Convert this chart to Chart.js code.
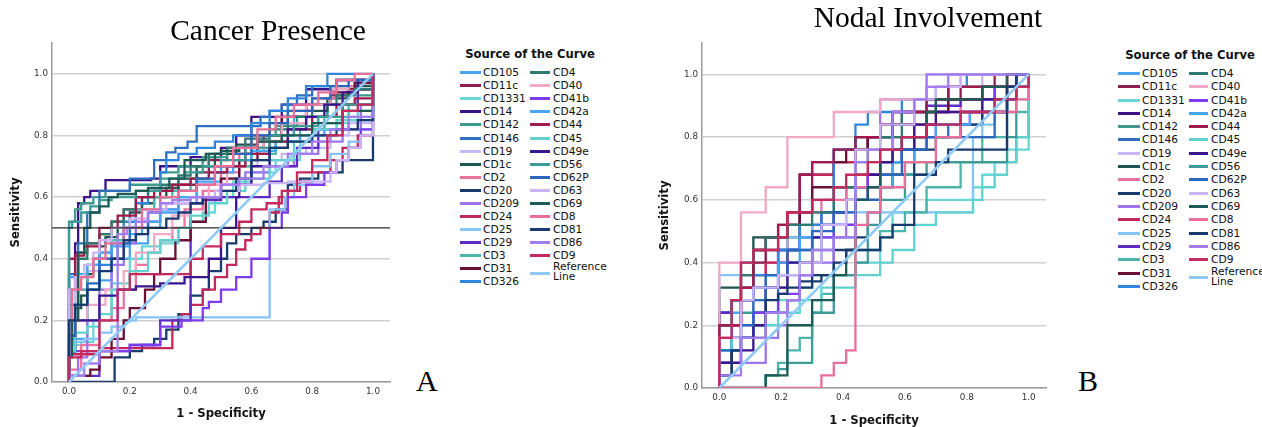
<!DOCTYPE html>
<html><head><meta charset="utf-8">
<script src="https://cdn.jsdelivr.net/npm/chart.js@4.4.0/dist/chart.umd.min.js"></script>
<style>
html,body{margin:0;padding:0;background:#fff;overflow:hidden;width:1262px;height:427px;position:relative}
canvas{position:absolute;top:0}
.ttl{position:absolute;font-family:"Liberation Serif","Times New Roman",serif;font-size:29.5px;line-height:29.5px;white-space:nowrap;color:#000;transform:translateX(-50%)}
.pl{position:absolute;font-family:"Liberation Serif","Times New Roman",serif;font-size:30px;line-height:30px;color:#000}
.lg{position:absolute;font-family:"DejaVu Sans",sans-serif;font-size:10.7px;line-height:13px;color:#111;white-space:nowrap}
.lgt{position:absolute;font-family:"DejaVu Sans",sans-serif;font-weight:bold;font-size:11.6px;line-height:14px;white-space:nowrap;transform:translateX(-50%);color:#111}
.sw{position:absolute;height:3px}
</style></head><body>
<canvas id="c1" width="400" height="427" style="left:0px"></canvas>
<canvas id="c2" width="410" height="432" style="left:650px"></canvas>
<div class="ttl" style="left:268px;top:16px">Cancer Presence</div>
<div class="ttl" style="left:928px;top:3px">Nodal Involvement</div>
<div class="pl" style="left:416px;top:366px">A</div>
<div class="pl" style="left:1078px;top:366px">B</div>
<div id="leg1"></div><div id="leg2"></div>
<script>
const markers = ['CD105','CD11c','CD1331','CD14','CD142','CD146','CD19','CD1c','CD2','CD20','CD209','CD24','CD25','CD29','CD3','CD31','CD326','CD4','CD40','CD41b','CD42a','CD44','CD45','CD49e','CD56','CD62P','CD63','CD69','CD8','CD81','CD86','CD9'];
const markerColors = ['#4aa3ee','#8e1f4f','#6ad6d6','#3b1387','#3f9a8e','#2e6fc0','#c9b8f7','#1f5550','#ec739f','#173b6c','#9d73ee','#c2275c','#84c4f6','#5e2cc4','#4db5aa','#6a1036','#2f86dd','#2e7a70','#f2a9c6','#7d3cf0','#46a6f4','#a01a4c','#60d2cf','#3a168e','#3d9c98','#2a67bd','#cbb4f5','#1f5b56','#eb6e99','#183a6f','#a47df1','#c52a5c'];
const refLabel = ['Reference','Line'];
const refColor = '#8fcaf5';
const refLine = [0,0, 1,1];
const cutoffY = 0.5;
const tickValues = [0, 0.2, 0.4, 0.6, 0.8, 1.0];
const legendTitle = 'Source of the Curve';
const xTitle = '1 - Specificity';
const yTitle = 'Sensitivity';

// ROC vertices (1 - specificity, sensitivity): rise first, then run
const cancerROC = [
 [0,0, 0.06,0.14, 0.1,0.3, 0.14,0.33, 0.2,0.4, 0.26,0.45, 0.3,0.5, 0.36,0.55, 0.42,0.6, 0.5,0.65, 0.58,0.7, 0.66,0.74, 0.74,0.8, 0.85,0.86, 1,0.9, 1,1],
 [0,0, 0.02,0.4, 0.06,0.42, 0.1,0.45, 0.14,0.48, 0.18,0.52, 0.24,0.56, 0.3,0.6, 0.36,0.62, 0.42,0.64, 0.46,0.68, 0.52,0.72, 0.58,0.74, 0.64,0.76, 0.7,0.8, 0.78,0.86, 0.86,0.9, 0.92,0.93, 1,0.95, 1,1],
 [0,0, 0.04,0.12, 0.08,0.13, 0.14,0.2, 0.2,0.32, 0.24,0.4, 0.3,0.44, 0.36,0.45, 0.4,0.5, 0.44,0.52, 0.48,0.55, 0.54,0.6, 0.6,0.65, 0.68,0.68, 0.76,0.72, 0.84,0.8, 0.92,0.84, 1,0.86, 1,1],
 [0,0, 0.02,0.1, 0.03,0.45, 0.05,0.58, 0.07,0.6, 0.12,0.62, 0.27,0.655, 0.3,0.66, 0.4,0.7, 0.5,0.73, 0.55,0.76, 0.6,0.8, 0.7,0.86, 0.78,0.9, 0.88,0.95, 0.95,0.98, 1,0.98, 1,1],
 [0,0, 0.02,0.52, 0.04,0.56, 0.08,0.58, 0.12,0.6, 0.2,0.62, 0.3,0.64, 0.36,0.68, 0.44,0.7, 0.52,0.73, 0.6,0.76, 0.68,0.8, 0.75,0.83, 0.85,0.86, 0.95,0.9, 1,0.93, 1,1],
 [0,0, 0.03,0.35, 0.06,0.45, 0.1,0.55, 0.2,0.62, 0.28,0.66, 0.32,0.72, 0.35,0.745, 0.39,0.76, 0.42,0.78, 0.63,0.83, 0.66,0.86, 0.7,0.88, 0.75,0.9, 0.8,0.93, 0.88,0.96, 1,0.98, 1,1],
 [0,0, 0.02,0.25, 0.06,0.3, 0.1,0.36, 0.14,0.4, 0.2,0.45, 0.26,0.5, 0.3,0.55, 0.36,0.58, 0.44,0.6, 0.5,0.62, 0.56,0.66, 0.62,0.7, 0.7,0.72, 0.78,0.74, 0.86,0.76, 0.92,0.8, 1,0.84, 1,1],
 [0,0, 0.02,0.1, 0.04,0.24, 0.06,0.28, 0.08,0.35, 0.1,0.4, 0.12,0.44, 0.16,0.47, 0.2,0.5, 0.24,0.55, 0.28,0.58, 0.32,0.6, 0.36,0.63, 0.42,0.66, 0.48,0.7, 0.55,0.74, 0.62,0.77, 0.7,0.8, 0.78,0.84, 0.85,0.88, 0.92,0.92, 1,0.96, 1,1],
 [0,0, 0.04,0.04, 0.1,0.12, 0.14,0.2, 0.18,0.24, 0.22,0.3, 0.26,0.38, 0.3,0.42, 0.34,0.46, 0.38,0.5, 0.44,0.56, 0.5,0.62, 0.56,0.68, 0.6,0.74, 0.66,0.8, 0.72,0.84, 0.8,0.88, 0.88,0.92, 0.94,0.96, 1,0.98, 1,1],
 [0,0, 0.15,0, 0.2,0.08, 0.24,0.1, 0.28,0.12, 0.32,0.14, 0.36,0.17, 0.4,0.22, 0.44,0.28, 0.46,0.3, 0.5,0.36, 0.52,0.4, 0.55,0.45, 0.6,0.48, 0.64,0.5, 0.68,0.52, 0.72,0.56, 0.76,0.64, 0.82,0.66, 0.9,0.68, 1,0.72, 1,1],
 [0,0, 0.03,0.02, 0.06,0.08, 0.1,0.2, 0.14,0.3, 0.18,0.38, 0.22,0.45, 0.26,0.5, 0.3,0.52, 0.36,0.56, 0.42,0.58, 0.5,0.6, 0.58,0.64, 0.66,0.68, 0.74,0.7, 0.82,0.74, 0.9,0.78, 0.96,0.82, 1,0.9, 1,1],
 [0,0, 0.1,0.09, 0.34,0.11, 0.37,0.2, 0.4,0.22, 0.44,0.25, 0.48,0.3, 0.52,0.34, 0.55,0.38, 0.58,0.43, 0.6,0.46, 0.63,0.48, 0.66,0.5, 0.69,0.55, 0.72,0.6, 0.76,0.62, 0.8,0.65, 0.86,0.68, 0.9,0.72, 0.95,0.76, 1,0.8, 1,1],
 [0,0, 0.05,0.13, 0.1,0.14, 0.14,0.16, 0.18,0.18, 0.22,0.2, 0.27,0.21, 0.66,0.21, 0.71,0.56, 0.74,0.6, 0.8,0.64, 0.86,0.7, 0.92,0.74, 0.96,0.78, 1,0.82, 1,1],
 [0,0, 0.1,0.02, 0.2,0.1, 0.3,0.12, 0.4,0.2, 0.44,0.58, 0.5,0.59, 0.66,0.6, 0.7,0.65, 0.75,0.7, 0.82,0.76, 0.9,0.82, 0.95,0.9, 1,0.95, 1,1],
 [0,0, 0.03,0.2, 0.06,0.3, 0.1,0.38, 0.14,0.42, 0.18,0.46, 0.22,0.5, 0.28,0.56, 0.34,0.6, 0.4,0.62, 0.46,0.66, 0.52,0.68, 0.6,0.7, 0.68,0.74, 0.76,0.78, 0.84,0.82, 0.92,0.86, 1,0.9, 1,1],
 [0,0, 0.07,0.02, 0.1,0.04, 0.14,0.08, 0.18,0.14, 0.2,0.2, 0.25,0.24, 0.28,0.3, 0.3,0.35, 0.35,0.4, 0.4,0.46, 0.45,0.52, 0.5,0.6, 0.56,0.66, 0.62,0.72, 0.7,0.78, 0.78,0.86, 0.86,0.9, 0.94,0.94, 1,0.97, 1,1],
 [0,0, 0.02,0.1, 0.06,0.2, 0.1,0.3, 0.14,0.38, 0.18,0.45, 0.22,0.52, 0.26,0.58, 0.3,0.62, 0.32,0.68, 0.36,0.72, 0.42,0.74, 0.48,0.76, 0.54,0.78, 0.6,0.8, 0.66,0.84, 0.72,0.88, 0.78,0.92, 0.85,0.96, 0.9,1, 1,1],
 [0,0, 0.03,0.25, 0.06,0.4, 0.1,0.45, 0.14,0.48, 0.18,0.52, 0.22,0.56, 0.26,0.6, 0.3,0.62, 0.36,0.64, 0.4,0.67, 0.46,0.7, 0.52,0.74, 0.58,0.76, 0.66,0.79, 0.72,0.82, 0.8,0.86, 0.88,0.9, 0.94,0.93, 1,0.95, 1,1],
 [0,0, 0.02,0.12, 0.06,0.2, 0.12,0.25, 0.18,0.3, 0.22,0.36, 0.28,0.42, 0.34,0.48, 0.4,0.54, 0.46,0.6, 0.52,0.64, 0.58,0.7, 0.64,0.74, 0.7,0.78, 0.78,0.84, 0.86,0.9, 0.92,0.95, 1,0.98, 1,1],
 [0,0, 0.2,0.1, 0.3,0.12, 0.37,0.18, 0.44,0.2, 0.46,0.24, 0.5,0.26, 0.55,0.3, 0.6,0.34, 0.66,0.4, 0.7,0.5, 0.72,0.55, 0.78,0.6, 0.84,0.64, 0.88,0.68, 0.92,0.72, 0.96,0.76, 1,0.82, 1,1],
 [0,0, 0.02,0.34, 0.06,0.35, 0.1,0.38, 0.14,0.42, 0.2,0.44, 0.24,0.48, 0.3,0.52, 0.36,0.56, 0.42,0.6, 0.48,0.64, 0.54,0.68, 0.6,0.72, 0.68,0.75, 0.76,0.78, 0.84,0.8, 0.92,0.82, 1,0.85, 1,1],
 [0,0, 0.02,0.3, 0.05,0.41, 0.1,0.44, 0.16,0.5, 0.22,0.54, 0.28,0.6, 0.34,0.62, 0.4,0.64, 0.46,0.66, 0.52,0.68, 0.58,0.7, 0.66,0.74, 0.72,0.78, 0.8,0.82, 0.88,0.86, 0.94,0.9, 1,0.92, 1,1],
 [0,0, 0.02,0.1, 0.06,0.16, 0.1,0.18, 0.14,0.22, 0.2,0.3, 0.26,0.36, 0.3,0.42, 0.36,0.46, 0.4,0.5, 0.46,0.54, 0.52,0.58, 0.58,0.62, 0.66,0.66, 0.74,0.72, 0.8,0.78, 0.88,0.82, 0.95,0.85, 1,0.88, 1,1],
 [0,0, 0.02,0.15, 0.1,0.2, 0.16,0.28, 0.22,0.3, 0.3,0.31, 0.38,0.32, 0.46,0.34, 0.5,0.4, 0.55,0.5, 0.56,0.6, 0.6,0.64, 0.66,0.7, 0.72,0.76, 0.78,0.82, 0.84,0.86, 0.9,0.9, 0.95,0.94, 1,0.98, 1,1],
 [0,0, 0.01,0.5, 0.04,0.52, 0.07,0.55, 0.1,0.57, 0.14,0.59, 0.22,0.6, 0.3,0.62, 0.38,0.66, 0.44,0.68, 0.5,0.7, 0.58,0.72, 0.66,0.76, 0.74,0.8, 0.82,0.83, 0.9,0.86, 1,0.9, 1,1],
 [0,0, 0.02,0.15, 0.06,0.25, 0.1,0.32, 0.16,0.4, 0.2,0.45, 0.26,0.5, 0.3,0.55, 0.36,0.6, 0.42,0.62, 0.48,0.66, 0.54,0.7, 0.6,0.74, 0.66,0.8, 0.72,0.84, 0.8,0.88, 0.86,0.92, 0.92,0.96, 1,0.98, 1,1],
 [0,0, 0.02,0.3, 0.05,0.34, 0.08,0.38, 0.1,0.42, 0.14,0.46, 0.2,0.5, 0.26,0.53, 0.32,0.56, 0.4,0.58, 0.48,0.6, 0.56,0.62, 0.64,0.64, 0.72,0.645, 0.86,0.65, 0.88,0.68, 0.92,0.72, 0.96,0.76, 1,0.8, 1,1],
 [0,0, 0.01,0.08, 0.03,0.2, 0.05,0.42, 0.07,0.5, 0.1,0.55, 0.13,0.57, 0.16,0.6, 0.22,0.61, 0.26,0.62, 0.33,0.63, 0.38,0.66, 0.45,0.72, 0.5,0.74, 0.56,0.75, 0.62,0.76, 0.7,0.78, 0.8,0.8, 0.9,0.84, 1,0.88, 1,1],
 [0,0, 0.01,0.2, 0.04,0.3, 0.08,0.34, 0.12,0.4, 0.18,0.45, 0.24,0.5, 0.3,0.56, 0.36,0.6, 0.42,0.62, 0.48,0.64, 0.54,0.7, 0.62,0.76, 0.68,0.82, 0.74,0.86, 0.82,0.9, 0.88,0.94, 0.94,0.98, 1,1],
 [0,0, 0.02,0.2, 0.06,0.25, 0.1,0.3, 0.14,0.36, 0.18,0.4, 0.22,0.46, 0.26,0.48, 0.32,0.5, 0.36,0.53, 0.4,0.55, 0.44,0.58, 0.5,0.6, 0.55,0.62, 0.6,0.66, 0.66,0.72, 0.72,0.76, 0.8,0.78, 0.88,0.8, 0.95,0.82, 1,0.85, 1,1],
 [0,0, 0.05,0.02, 0.1,0.06, 0.16,0.1, 0.19,0.48, 0.22,0.5, 0.26,0.52, 0.3,0.55, 0.34,0.58, 0.4,0.59, 0.5,0.6, 0.56,0.64, 0.64,0.66, 0.72,0.7, 0.8,0.74, 0.86,0.78, 0.92,0.82, 1,0.86, 1,1],
 [0,0, 0.04,0.08, 0.1,0.1, 0.16,0.2, 0.2,0.3, 0.4,0.35, 0.44,0.4, 0.5,0.44, 0.56,0.48, 0.6,0.52, 0.65,0.56, 0.7,0.58, 0.75,0.62, 0.8,0.68, 0.85,0.72, 0.9,0.8, 0.95,0.88, 1,0.9, 1,1]
];

const nodalROC = [
 [0,0, 0.04,0.24, 0.07,0.28, 0.15,0.32, 0.19,0.36, 0.22,0.4, 0.3,0.44, 0.37,0.48, 0.44,0.52, 0.48,0.6, 0.52,0.64, 0.59,0.72, 0.67,0.8, 0.78,0.84, 0.85,0.88, 0.93,0.92, 1,0.96, 1,1],
 [0,0, 0.07,0.2, 0.11,0.36, 0.15,0.44, 0.19,0.48, 0.26,0.52, 0.3,0.56, 0.37,0.68, 0.44,0.72, 0.48,0.76, 0.56,0.8, 0.67,0.84, 0.7,0.88, 0.78,0.92, 0.89,0.96, 1,1],
 [0,0, 0.07,0.08, 0.11,0.16, 0.19,0.24, 0.26,0.28, 0.3,0.32, 0.37,0.36, 0.44,0.36, 0.52,0.4, 0.56,0.48, 0.67,0.56, 0.82,0.6, 0.85,0.64, 0.89,0.68, 0.93,0.72, 1,0.76, 1,1],
 [0,0, 0.04,0.24, 0.11,0.28, 0.19,0.32, 0.26,0.44, 0.3,0.48, 0.33,0.52, 0.41,0.56, 0.48,0.64, 0.52,0.68, 0.59,0.72, 0.67,0.8, 0.78,0.84, 0.93,0.88, 0.96,0.96, 1,1],
 [0,0, 0.04,0.08, 0.07,0.16, 0.15,0.24, 0.22,0.32, 0.3,0.4, 0.37,0.44, 0.44,0.48, 0.52,0.6, 0.6,0.68, 0.67,0.72, 0.96,0.72, 1,0.8, 1,1],
 [0,0, 0.04,0.08, 0.11,0.16, 0.19,0.24, 0.26,0.36, 0.33,0.4, 0.37,0.52, 0.41,0.56, 0.44,0.6, 0.52,0.64, 0.59,0.72, 0.67,0.76, 0.74,0.8, 0.85,0.84, 0.93,0.88, 0.96,0.92, 1,0.96, 1,1],
 [0,0, 0.11,0.2, 0.15,0.28, 0.22,0.32, 0.3,0.4, 0.37,0.48, 0.44,0.52, 0.48,0.6, 0.52,0.64, 0.56,0.72, 0.63,0.8, 0.67,0.84, 0.74,0.92, 0.85,0.96, 0.93,1, 1,1],
 [0,0, 0.07,0.32, 0.11,0.4, 0.26,0.48, 0.3,0.56, 0.37,0.6, 0.44,0.64, 0.48,0.76, 0.56,0.8, 0.67,0.84, 0.74,0.88, 0.85,0.92, 0.93,0.96, 1,1],
 [0,0, 0.04,0.16, 0.07,0.2, 0.11,0.28, 0.15,0.36, 0.22,0.4, 0.26,0.52, 0.33,0.56, 0.41,0.6, 0.48,0.64, 0.56,0.72, 0.63,0.8, 0.7,0.84, 0.78,0.88, 0.85,0.92, 0.93,0.96, 1,1],
 [0,0, 0.04,0.04, 0.11,0.16, 0.15,0.2, 0.22,0.24, 0.26,0.28, 0.3,0.32, 0.37,0.36, 0.44,0.44, 0.48,0.48, 0.52,0.56, 0.56,0.64, 0.63,0.68, 0.7,0.76, 0.78,0.8, 0.85,0.84, 0.93,0.88, 0.96,0.96, 1,1],
 [0,0, 0.15,0.08, 0.19,0.16, 0.22,0.2, 0.26,0.28, 0.3,0.36, 0.37,0.4, 0.41,0.48, 0.44,0.52, 0.52,0.8, 0.67,0.92, 1,1],
 [0,0, 0.07,0.2, 0.11,0.32, 0.15,0.36, 0.22,0.4, 0.26,0.56, 0.37,0.68, 0.44,0.72, 0.48,0.76, 0.52,0.8, 0.56,0.84, 0.63,0.88, 0.74,0.92, 0.85,0.96, 0.96,0.96, 1,1],
 [0,0, 0.07,0.36, 0.15,0.4, 0.22,0.44, 0.3,0.48, 0.37,0.52, 0.44,0.52, 0.56,0.56, 0.82,0.56, 0.85,0.8, 0.89,0.84, 0.93,0.88, 1,0.92, 1,1],
 [0,0, 0.04,0.24, 0.11,0.28, 0.19,0.32, 0.26,0.44, 0.3,0.68, 0.37,0.72, 0.44,0.76, 0.52,0.8, 0.59,0.84, 0.67,0.88, 0.78,0.9, 0.89,0.92, 1,0.96, 1,1],
 [0,0, 0.15,0, 0.19,0.04, 0.22,0.08, 0.26,0.12, 0.3,0.16, 0.33,0.24, 0.37,0.3, 0.44,0.36, 0.52,0.44, 0.6,0.5, 0.67,0.56, 0.78,0.64, 0.85,0.72, 0.93,0.8, 1,0.88, 1,1],
 [0,0, 0.04,0.08, 0.07,0.12, 0.11,0.28, 0.15,0.44, 0.22,0.48, 0.26,0.52, 0.3,0.56, 0.37,0.64, 0.41,0.72, 0.48,0.76, 0.56,0.8, 0.63,0.84, 0.74,0.88, 0.85,0.92, 0.93,0.96, 1,1],
 [0,0, 0.04,0.2, 0.11,0.28, 0.19,0.36, 0.26,0.44, 0.33,0.52, 0.37,0.56, 0.44,0.76, 0.48,0.84, 0.59,0.88, 0.7,0.92, 0.8,0.96, 0.93,1, 1,1],
 [0,0, 0.04,0.2, 0.07,0.28, 0.11,0.36, 0.15,0.44, 0.22,0.48, 0.3,0.52, 0.37,0.56, 0.44,0.64, 0.48,0.72, 0.52,0.76, 0.59,0.8, 0.67,0.88, 0.74,0.92, 0.85,0.96, 0.96,0.96, 1,1],
 [0,0, 0.07,0.4, 0.15,0.56, 0.22,0.64, 0.37,0.8, 0.52,0.88, 0.67,0.92, 0.78,0.96, 1,1],
 [0,0, 0.07,0.08, 0.11,0.16, 0.19,0.24, 0.26,0.3, 0.3,0.36, 0.37,0.48, 0.44,0.52, 0.48,0.6, 0.56,0.68, 0.63,0.76, 0.7,0.8, 0.81,0.84, 0.89,0.88, 0.96,0.96, 1,1],
 [0,0, 0.04,0.12, 0.07,0.24, 0.11,0.28, 0.19,0.32, 0.26,0.4, 0.33,0.48, 0.41,0.52, 0.44,0.56, 0.52,0.6, 0.56,0.64, 0.63,0.72, 0.7,0.8, 0.81,0.84, 0.89,0.88, 0.96,0.92, 1,1],
 [0,0, 0.07,0.2, 0.11,0.32, 0.15,0.4, 0.19,0.44, 0.22,0.52, 0.26,0.56, 0.3,0.68, 0.37,0.72, 0.44,0.76, 0.52,0.8, 0.56,0.84, 0.67,0.88, 0.74,0.92, 0.85,0.96, 1,0.96, 1,1],
 [0,0, 0.04,0.12, 0.11,0.16, 0.19,0.2, 0.26,0.24, 0.33,0.28, 0.37,0.32, 0.44,0.32, 0.48,0.36, 0.52,0.36, 0.56,0.4, 0.63,0.44, 0.7,0.52, 0.82,0.56, 0.85,0.6, 0.89,0.64, 0.93,0.68, 0.96,0.72, 1,0.8, 1,1],
 [0,0, 0.07,0.08, 0.11,0.12, 0.15,0.2, 0.22,0.32, 0.3,0.4, 0.33,0.48, 0.37,0.52, 0.41,0.56, 0.44,0.6, 0.52,0.68, 0.56,0.72, 0.63,0.76, 0.7,0.84, 0.85,0.88, 0.93,0.92, 0.96,0.96, 1,1],
 [0,0, 0.15,0, 0.19,0.04, 0.22,0.06, 0.3,0.08, 0.37,0.24, 0.44,0.36, 0.48,0.4, 0.52,0.52, 0.6,0.6, 0.67,0.68, 0.74,0.72, 0.93,0.72, 0.96,0.8, 1,0.96, 1,1],
 [0,0, 0.07,0.12, 0.11,0.2, 0.15,0.28, 0.22,0.36, 0.3,0.44, 0.37,0.5, 0.44,0.56, 0.52,0.6, 0.59,0.68, 0.67,0.76, 0.7,0.8, 0.89,0.8, 0.93,0.88, 0.96,0.92, 1,0.96, 1,1],
 [0,0, 0.07,0.16, 0.11,0.28, 0.19,0.32, 0.26,0.36, 0.33,0.4, 0.41,0.52, 0.44,0.6, 0.52,0.76, 0.63,0.84, 0.7,0.92, 0.78,0.96, 0.89,1, 1,1],
 [0,0, 0.15,0, 0.19,0.04, 0.22,0.04, 0.3,0.2, 0.37,0.28, 0.41,0.36, 0.44,0.44, 0.48,0.6, 0.52,0.64, 0.59,0.76, 0.67,0.8, 0.7,0.88, 0.85,0.92, 0.93,0.96, 1,1],
 [0,0, 0.33,0, 0.37,0.04, 0.41,0.08, 0.44,0.12, 0.48,0.52, 0.52,0.56, 0.6,0.64, 0.7,0.72, 0.78,0.8, 0.89,0.88, 0.96,0.88, 1,0.92, 1,1],
 [0,0, 0.04,0.04, 0.07,0.12, 0.15,0.16, 0.19,0.28, 0.22,0.3, 0.26,0.32, 0.33,0.34, 0.37,0.36, 0.41,0.4, 0.44,0.44, 0.52,0.44, 0.56,0.48, 0.63,0.52, 0.7,0.68, 0.74,0.72, 0.93,0.76, 0.96,0.96, 1,1],
 [0,0, 0.07,0.04, 0.15,0.16, 0.22,0.24, 0.26,0.28, 0.3,0.36, 0.37,0.44, 0.44,0.48, 0.48,0.72, 0.56,0.76, 0.63,0.88, 0.67,0.92, 0.74,0.96, 0.85,1, 1,1],
 [0,0, 0.04,0.16, 0.07,0.28, 0.11,0.4, 0.19,0.44, 0.22,0.48, 0.3,0.56, 0.37,0.6, 0.41,0.64, 0.48,0.68, 0.52,0.72, 0.59,0.76, 0.67,0.8, 0.78,0.84, 0.89,0.88, 0.96,0.92, 1,0.96, 1,1]
];

const X_MIN = -0.056, X_MAX = 1.056, Y_MIN = 0, Y_MAX = 1.1;

function toPts(a){ const p=[]; for(let i=0;i<a.length;i+=2) p.push({x:a[i], y:a[i+1]}); return p; }

function buildDatasets(rocs, withCutoff){
  const ds = [];
  ds.push({label:'Reference Line', data:toPts(refLine), borderColor:refColor, borderWidth:2.6, stepped:false, order:-2});
  if (withCutoff) ds.push({label:'cutoff', data:[{x:X_MIN,y:cutoffY},{x:X_MAX,y:cutoffY}], borderColor:'#2a2a2a', borderWidth:1.2, stepped:false, order:-1});
  rocs.forEach((r,i)=>{
    ds.push({label:markers[i], data:toPts(r), borderColor:markerColors[i], borderWidth:2.3, stepped:'after', order:100-i});
  });
  return ds;
}

function makeChart(id, rocs, withCutoff, cfg){
  const tickFont = {family:'DejaVu Sans', size:8.8};
  const titleFont = {family:'DejaVu Sans', size:11.7, weight:'bold'};
  new Chart(document.getElementById(id), {
    type:'scatter',
    data:{datasets:buildDatasets(rocs, withCutoff)},
    options:{
      responsive:false, animation:false, devicePixelRatio:1,
      showLine:true,
      layout:{padding:{top:43, right:cfg.right, left:0, bottom:0}},
      plugins:{legend:{display:false}, tooltip:{enabled:false}},
      elements:{point:{radius:0, hoverRadius:0}, line:{tension:0, fill:false}},
      scales:{
        x:{type:'linear', min:X_MIN, max:X_MAX,
           afterBuildTicks:s=>{ s.ticks = tickValues.map(v=>({value:v})); },
           afterFit:s=>{ s.height = cfg.xh; },
           grid:{display:false, drawTicks:false},
           border:{display:true, color:'#9c9c9c', width:1.5},
           ticks:{padding:4, font:tickFont, color:'#333', maxRotation:0, autoSkip:false, callback:v=>Number(v).toFixed(1)},
           title:{display:true, text:xTitle, font:titleFont, color:'#111', padding:{top:0, bottom:cfg.xpad}}
        },
        y:{type:'linear', min:Y_MIN, max:Y_MAX,
           afterBuildTicks:s=>{ s.ticks = tickValues.map(v=>({value:v})); },
           afterFit:s=>{ s.width = 52; },
           grid:{color:'#d0d0d0', lineWidth:1.5, drawTicks:false},
           border:{display:true, color:'#9c9c9c', width:1.5},
           ticks:{padding:4, font:tickFont, color:'#333', callback:v=>Number(v).toFixed(1)},
           title:{display:true, text:yTitle, font:titleFont, color:'#111', padding:{top:cfg.ypad, bottom:0}}
        }
      }
    }
  });
}

makeChart('c1', cancerROC, true, {right:10, xh:45, xpad:6, ypad:9});
makeChart('c2', nodalROC, false, {right:14, xh:44, xpad:4, ypad:8});

function buildLegend(el, L){
  let h = `<div class="lgt" style="left:${L.tx}px;top:${L.ty}px">${legendTitle}</div>`;
  const n1 = 17;
  markers.forEach((m,i)=>{
    const col = i < n1 ? 0 : 1;
    const row = i < n1 ? i : i - n1;
    const y = L.y0 + L.dy*row;
    const sx = col ? L.s2 : L.s1, sw = col ? L.w2 : L.w1, tx = col ? L.t2 : L.t1;
    h += `<div class="sw" style="left:${sx}px;top:${(y-1.5).toFixed(1)}px;width:${sw}px;background:${markerColors[i]}"></div>`;
    h += `<div class="lg" style="left:${tx}px;top:${(y-6.5).toFixed(1)}px">${m}</div>`;
  });
  const ry = L.y0 + L.dy*15;
  h += `<div class="sw" style="left:${L.s2}px;top:${(ry+3).toFixed(1)}px;width:${L.w2}px;background:${refColor}"></div>`;
  h += `<div class="lg" style="left:${L.t2}px;top:${(ry-6.5).toFixed(1)}px;line-height:10px">${refLabel[0]}<br>${refLabel[1]}</div>`;
  document.getElementById(el).innerHTML = h;
}
buildLegend('leg1', {tx:530, ty:47, y0:72.7, dy:13.06, s1:460, w1:21, t1:483, s2:530, w2:20, t2:553});
buildLegend('leg2', {tx:1190, ty:48, y0:73.3, dy:13.33, s1:1118, w1:22, t1:1142, s2:1189, w2:19, t2:1211});
</script>
</body></html>
